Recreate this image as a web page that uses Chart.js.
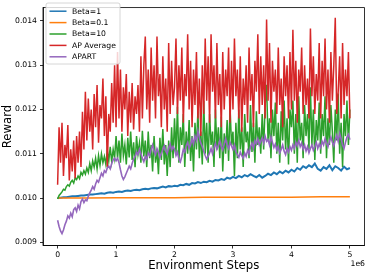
<!DOCTYPE html>
<html>
<head>
<meta charset="utf-8">
<script src="https://cdn.jsdelivr.net/npm/chart.js@4.4.1/dist/chart.umd.min.js"></script>
<style>
  html, body { margin: 0; padding: 0; background: #fff; }
  #chart { display: block; }
</style>
</head>
<body>
<canvas id="chart" width="365" height="274"></canvas>
<script>
// x positions (environment steps)
const stepsFine = Array.from({ length: 201 }, (_, i) => i * 25000);
const stepsCoarse = Array.from({ length: 101 }, (_, i) => i * 50000);
const stepsFlat = [0, 500000, 1000000, 1500000, 2000000, 2500000, 3000000, 3500000, 4000000, 4500000, 5000000];

const xTicks = [0, 1000000, 2000000, 3000000, 4000000, 5000000];
const yTicks = [0.009, 0.010, 0.011, 0.012, 0.013, 0.014];

const seriesLabels = ['Beta=1', 'Beta=0.1', 'Beta=10', 'AP Average', 'APART'];
const seriesColors = ['#1f77b4', '#ff7f0e', '#2ca02c', '#d62728', '#9467bd'];

// Beta=1 (every 50k steps)
const beta1 = [
    0.01000, 0.01001, 0.01002, 0.01002, 0.01003, 0.01004, 0.01004, 0.01005, 0.01006, 0.01006,
    0.01007, 0.01008, 0.01008, 0.01009, 0.01010, 0.01011, 0.01010, 0.01012, 0.01013, 0.01012,
    0.01014, 0.01015, 0.01014, 0.01016, 0.01017, 0.01016, 0.01018, 0.01019, 0.01018, 0.01020,
    0.01021, 0.01020, 0.01022, 0.01023, 0.01022, 0.01024, 0.01026, 0.01024, 0.01027, 0.01026,
    0.01028, 0.01027, 0.01030, 0.01029, 0.01032, 0.01030, 0.01034, 0.01033, 0.01036, 0.01034,
    0.01037, 0.01036, 0.01039, 0.01037, 0.01041, 0.01040, 0.01043, 0.01041, 0.01046, 0.01044,
    0.01048, 0.01045, 0.01050, 0.01047, 0.01052, 0.01049, 0.01054, 0.01050, 0.01047, 0.01052,
    0.01046, 0.01050, 0.01055, 0.01052, 0.01058, 0.01054, 0.01060, 0.01056, 0.01062, 0.01058,
    0.01064, 0.01060, 0.01068, 0.01064, 0.01072, 0.01068, 0.01074, 0.01070, 0.01078, 0.01066,
    0.01062, 0.01070, 0.01066, 0.01074, 0.01063, 0.01072, 0.01068, 0.01062, 0.01071, 0.01065,
    0.01068
];

// Beta=0.1 (nearly flat)
const beta01 = [0.01000, 0.01000, 0.01001, 0.01001, 0.01001, 0.01002, 0.01002, 0.01002, 0.01002, 0.01003, 0.01003];

// Beta=10 (every 25k steps)
const beta10 = [
    0.00998, 0.01006, 0.01010, 0.01014, 0.01020, 0.01018, 0.01026, 0.01030, 0.01027, 0.01036,
    0.01040, 0.01034, 0.01046, 0.01042, 0.01050, 0.01044, 0.01058, 0.01052, 0.01062, 0.01054,
    0.01068, 0.01058, 0.01078, 0.01062, 0.01084, 0.01070, 0.01090, 0.01066, 0.01096, 0.01074,
    0.01100, 0.01080, 0.01094, 0.01076, 0.01108, 0.01084, 0.01116, 0.01082, 0.01110, 0.01090,
    0.01140, 0.01090, 0.01130, 0.01080, 0.01146, 0.01096, 0.01120, 0.01076, 0.01136, 0.01092,
    0.01150, 0.01086, 0.01126, 0.01070, 0.01140, 0.01100, 0.01124, 0.01080, 0.01152, 0.01094,
    0.01130, 0.01070, 0.01150, 0.01090, 0.01120, 0.01060, 0.01140, 0.01080, 0.01110, 0.01054,
    0.01136, 0.01086, 0.01156, 0.01076, 0.01120, 0.01050, 0.01130, 0.01070, 0.01160, 0.01090,
    0.01180, 0.01100, 0.01206, 0.01080, 0.01160, 0.01120, 0.01190, 0.01070, 0.01150, 0.01100,
    0.01176, 0.01084, 0.01140, 0.01060, 0.01170, 0.01110, 0.01196, 0.01090, 0.01150, 0.01076,
    0.01220, 0.01100, 0.01170, 0.01080, 0.01190, 0.01120, 0.01150, 0.01070, 0.01200, 0.01110,
    0.01160, 0.01090, 0.01184, 0.01060, 0.01146, 0.01100, 0.01176, 0.01084, 0.01206, 0.01120,
    0.01150, 0.01050, 0.01170, 0.01090, 0.01200, 0.01110, 0.01160, 0.01070, 0.01190, 0.01126,
    0.01150, 0.01090, 0.01210, 0.01104, 0.01170, 0.01080, 0.01196, 0.01120, 0.01160, 0.01100,
    0.01190, 0.01110, 0.01210, 0.01256, 0.01130, 0.01180, 0.01090, 0.01200, 0.01140, 0.01216,
    0.01100, 0.01170, 0.01080, 0.01196, 0.01130, 0.01220, 0.01110, 0.01180, 0.01076, 0.01200,
    0.01160, 0.01220, 0.01100, 0.01190, 0.01080, 0.01230, 0.01130, 0.01170, 0.01090, 0.01210,
    0.01140, 0.01190, 0.01110, 0.01250, 0.01120, 0.01200, 0.01086, 0.01176, 0.01130, 0.01216,
    0.01100, 0.01190, 0.01140, 0.01230, 0.01090, 0.01180, 0.01120, 0.01210, 0.01150, 0.01080,
    0.01200, 0.01130, 0.01236, 0.01100, 0.01170, 0.01070, 0.01190, 0.01140, 0.01220, 0.01120,
    0.01200
];

// AP Average (every 25k steps)
const apAverage = [
    0.01030, 0.01160, 0.01080, 0.01170, 0.01050, 0.01120, 0.01090, 0.01165, 0.01040, 0.01110,
    0.01060, 0.01130, 0.01045, 0.01140, 0.01080, 0.01150, 0.01070, 0.01195, 0.01110, 0.01240,
    0.01130, 0.01225, 0.01150, 0.01200, 0.01110, 0.01235, 0.01160, 0.01255, 0.01125, 0.01210,
    0.01180, 0.01270, 0.01140, 0.01230, 0.01070, 0.01190, 0.01150, 0.01260, 0.01170, 0.01300,
    0.01160, 0.01330, 0.01180, 0.01290, 0.01150, 0.01250, 0.01200, 0.01280, 0.01140, 0.01240,
    0.01170, 0.01260, 0.01155, 0.01230, 0.01190, 0.01255, 0.01150, 0.01320, 0.01180, 0.01300,
    0.01365, 0.01200, 0.01290, 0.01170, 0.01340, 0.01220, 0.01300, 0.01180, 0.01365, 0.01230,
    0.01280, 0.01160, 0.01320, 0.01200, 0.01270, 0.01150, 0.01350, 0.01190, 0.01310, 0.01210,
    0.01250, 0.01360, 0.01190, 0.01300, 0.01220, 0.01340, 0.01170, 0.01280, 0.01230, 0.01370,
    0.01200, 0.01310, 0.01160, 0.01290, 0.01210, 0.01330, 0.01180, 0.01270, 0.01140, 0.01300,
    0.01190, 0.01360, 0.01220, 0.01320, 0.01170, 0.01370, 0.01240, 0.01300, 0.01180, 0.01350,
    0.01210, 0.01280, 0.01160, 0.01330, 0.01200, 0.01290, 0.01230, 0.01340, 0.01170, 0.01310,
    0.01200, 0.01360, 0.01230, 0.01290, 0.01180, 0.01320, 0.01150, 0.01270, 0.01210, 0.01300,
    0.01170, 0.01340, 0.01220, 0.01280, 0.01160, 0.01310, 0.01240, 0.01370, 0.01190, 0.01320,
    0.01210, 0.01300, 0.01180, 0.01403, 0.01220, 0.01350, 0.01170, 0.01310, 0.01240, 0.01290,
    0.01190, 0.01340, 0.01210, 0.01270, 0.01160, 0.01320, 0.01230, 0.01300, 0.01180, 0.01330,
    0.01200, 0.01380, 0.01220, 0.01310, 0.01170, 0.01290, 0.01240, 0.01340, 0.01190, 0.01300,
    0.01210, 0.01270, 0.01180, 0.01383, 0.01230, 0.01320, 0.01190, 0.01280, 0.01220, 0.01350,
    0.01180, 0.01310, 0.01230, 0.01360, 0.01200, 0.01290, 0.01170, 0.01330, 0.01220, 0.01300,
    0.01407, 0.01190, 0.01240, 0.01320, 0.01180, 0.01350, 0.01210, 0.01290, 0.01230, 0.01330,
    0.01180
];

// APART (every 25k steps)
const apart = [
    0.00950, 0.00936, 0.00926, 0.00920, 0.00928, 0.00940, 0.00948, 0.00960, 0.00955, 0.00966,
    0.00958, 0.00974, 0.00978, 0.00970, 0.00984, 0.00976, 0.00992, 0.00998, 0.00990, 0.00996,
    0.00994, 0.01004, 0.01012, 0.01018, 0.01026, 0.01020, 0.01032, 0.01040, 0.01036, 0.01046,
    0.01056, 0.01050, 0.01062, 0.01058, 0.01068, 0.01072, 0.01066, 0.01078, 0.01086, 0.01090,
    0.01084, 0.01090, 0.01080, 0.01064, 0.01050, 0.01042, 0.01048, 0.01056, 0.01064, 0.01072,
    0.01066, 0.01078, 0.01088, 0.01094, 0.01104, 0.01098, 0.01110, 0.01100, 0.01090, 0.01082,
    0.01094, 0.01088, 0.01102, 0.01096, 0.01110, 0.01120, 0.01106, 0.01098, 0.01112, 0.01104,
    0.01092, 0.01100, 0.01110, 0.01118, 0.01106, 0.01100, 0.01114, 0.01122, 0.01108, 0.01116,
    0.01110, 0.01096, 0.01104, 0.01088, 0.01082, 0.01094, 0.01110, 0.01104, 0.01118, 0.01126,
    0.01112, 0.01120, 0.01134, 0.01122, 0.01140, 0.01130, 0.01152, 0.01136, 0.01124, 0.01116,
    0.01106, 0.01096, 0.01088, 0.01094, 0.01102, 0.01112, 0.01100, 0.01114, 0.01124, 0.01110,
    0.01118, 0.01130, 0.01116, 0.01108, 0.01122, 0.01134, 0.01120, 0.01112, 0.01126, 0.01118,
    0.01110, 0.01120, 0.01104, 0.01098, 0.01092, 0.01104, 0.01096, 0.01090, 0.01102, 0.01094,
    0.01108, 0.01100, 0.01116, 0.01124, 0.01112, 0.01130, 0.01122, 0.01134, 0.01120, 0.01128,
    0.01136, 0.01124, 0.01140, 0.01128, 0.01132, 0.01120, 0.01138, 0.01126, 0.01114, 0.01122,
    0.01108, 0.01116, 0.01102, 0.01110, 0.01120, 0.01106, 0.01098, 0.01112, 0.01104, 0.01116,
    0.01108, 0.01120, 0.01112, 0.01126, 0.01118, 0.01130, 0.01116, 0.01124, 0.01110, 0.01120,
    0.01106, 0.01116, 0.01102, 0.01112, 0.01120, 0.01108, 0.01116, 0.01126, 0.01112, 0.01122,
    0.01114, 0.01128, 0.01120, 0.01134, 0.01124, 0.01116, 0.01128, 0.01138, 0.01126, 0.01118,
    0.01132, 0.01142, 0.01128, 0.01146, 0.01134, 0.01120, 0.01112, 0.01126, 0.01138, 0.01144,
    0.01132
];

const FONT = 'DejaVu Sans';
const lineWidths = [2, 1.5, 1.5, 1.5, 1.6];

function pairUp(xs, ys) {
    return ys.map((y, i) => ({ x: xs[i], y: y }));
}

function makeDataset(idx, xs, ys, order) {
    return {
        label: seriesLabels[idx],
        data: pairUp(xs, ys),
        borderColor: seriesColors[idx],
        backgroundColor: seriesColors[idx],
        borderWidth: lineWidths[idx],
        pointRadius: 0,
        tension: 0,
        order: order
    };
}

// box around the axes, legend and the offset text
const framePlugin = {
    id: 'frame',
    afterDraw(chart) {
        const ctx = chart.ctx;
        const a = chart.chartArea;
        ctx.save();
        ctx.strokeStyle = '#000';
        ctx.lineWidth = 0.8;
        ctx.strokeRect(a.left, a.top, a.right - a.left, a.bottom - a.top);

        // legend
        const bx = 46, by = 3, bw = 74, bh = 61, r = 2;
        ctx.beginPath();
        ctx.moveTo(bx + r, by);
        ctx.arcTo(bx + bw, by, bx + bw, by + bh, r);
        ctx.arcTo(bx + bw, by + bh, bx, by + bh, r);
        ctx.arcTo(bx, by + bh, bx, by, r);
        ctx.arcTo(bx, by, bx + bw, by, r);
        ctx.closePath();
        ctx.fillStyle = 'rgba(255,255,255,0.8)';
        ctx.fill();
        ctx.strokeStyle = '#cccccc';
        ctx.lineWidth = 0.8;
        ctx.stroke();

        ctx.font = '7.7px "' + FONT + '"';
        ctx.textBaseline = 'middle';
        ctx.textAlign = 'left';
        seriesLabels.forEach((lab, i) => {
            const y = 11.2 + i * 11.4;
            ctx.strokeStyle = seriesColors[i];
            ctx.lineWidth = 1.5;
            ctx.beginPath();
            ctx.moveTo(49.5, y);
            ctx.lineTo(66.5, y);
            ctx.stroke();
            ctx.fillStyle = '#000';
            ctx.fillText(lab, 72, y + 0.5);
        });

        // offset text for the x axis
        ctx.textAlign = 'right';
        ctx.fillText('1e6', 365, 264.5);
        ctx.restore();
    }
};

new Chart(document.getElementById('chart'), {
    type: 'line',
    data: {
        datasets: [
            makeDataset(0, stepsCoarse, beta1, 5),
            makeDataset(1, stepsFlat, beta01, 4),
            makeDataset(2, stepsFine, beta10, 3),
            makeDataset(3, stepsFine, apAverage, 2),
            makeDataset(4, stepsFine, apart, 1)
        ]
    },
    options: {
        responsive: false,
        animation: false,
        devicePixelRatio: 1,
        layout: { padding: { left: 0, right: 0.5, top: 0.5, bottom: 0 } },
        plugins: {
            legend: { display: false },
            tooltip: { enabled: false }
        },
        scales: {
            x: {
                type: 'linear',
                min: -250000,
                max: 5250000,
                afterBuildTicks: s => { s.ticks = xTicks.map(v => ({ value: v })); },
                afterFit: s => { s.height = 28.5; },
                ticks: {
                    font: { family: FONT, size: 7.7 },
                    color: '#000',
                    padding: 2,
                    maxRotation: 0,
                    callback: v => String(v / 1000000)
                },
                grid: { drawOnChartArea: false, drawTicks: true, tickLength: 3, color: '#000', lineWidth: 0.8 },
                border: { display: true, color: '#000', width: 0.8 },
                title: {
                    display: true,
                    text: 'Environment Steps',
                    font: { family: FONT, size: 11.7 },
                    color: '#000',
                    padding: { top: 0, bottom: 1 }
                }
            },
            y: {
                type: 'linear',
                min: 0.00893,
                max: 0.0143,
                afterBuildTicks: s => { s.ticks = yTicks.map(v => ({ value: v })); },
                afterFit: s => { s.width = 43; },
                ticks: {
                    font: { family: FONT, size: 7.7 },
                    color: '#000',
                    padding: 3,
                    callback: v => v.toFixed(3)
                },
                grid: { drawOnChartArea: false, drawTicks: true, tickLength: 3, color: '#000', lineWidth: 0.8 },
                border: { display: true, color: '#000', width: 0.8 },
                title: {
                    display: true,
                    text: 'Reward',
                    font: { family: FONT, size: 11.7 },
                    color: '#000',
                    padding: { top: 1, bottom: 0 }
                }
            }
        }
    },
    plugins: [framePlugin]
});
</script>
</body>
</html>
